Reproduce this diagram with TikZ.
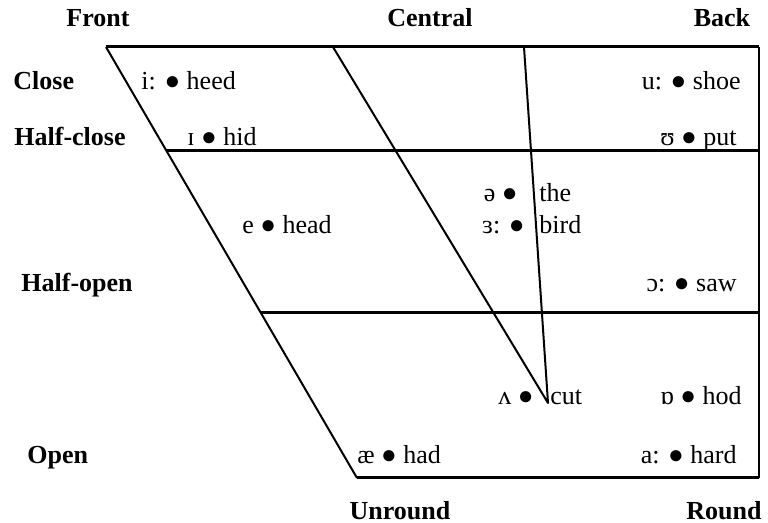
\documentclass[tikz,border=0pt]{standalone}
\usepackage{fontspec}
\setmainfont{Liberation Serif}
\begin{document}
\begin{tikzpicture}[x=0.5pt, y=-0.5pt,
    thickline/.style={line width=1.5pt},
    thinline/.style={line width=1pt, line join=round},
    vowel/.style={inner sep=0pt, font=\fontsize{13}{15}\selectfont},
    heading/.style={inner sep=0pt, font=\fontsize{13}{15}\selectfont\bfseries}]
    \useasboundingbox (0,0) rectangle (768,523);

    % corners of the chart
    \coordinate (topleft) at (106,47);
    \coordinate (topright) at (759,47);
    \coordinate (botleft) at (357,478);
    \coordinate (botright) at (759,478);
    \coordinate (hcleft) at (166,151);
    \coordinate (hcright) at (759,151);
    \coordinate (holeft) at (261,313);
    \coordinate (horight) at (759,313);
    \coordinate (ctop) at (333,47);
    \coordinate (mtop) at (524,47);
    \coordinate (cbot) at (548,403);

    \draw[thickline] (topleft) -- (topright);
    \draw[thickline] (botleft) -- (botright);
    \draw[thickline] (hcleft) -- (hcright);
    \draw[thickline] (holeft) -- (horight);
    \draw[thinline] (topleft) -- (botleft);
    \draw[thinline] (topright) -- (botright);
    \draw[thinline] (ctop) -- (cbot) -- (mtop);

    % column and row headings
    \node[heading, anchor=base] (front) at (98,27) {Front};
    \node[heading, anchor=base] (central) at (430,27) {Central};
    \node[heading, anchor=base] (back) at (722,27) {Back};
    \node[heading, anchor=base west] (close) at (13,90) {Close};
    \node[heading, anchor=base west] (halfclose) at (14,146) {Half-close};
    \node[heading, anchor=base west] (halfopen) at (21,292) {Half-open};
    \node[heading, anchor=base west] (open) at (27,464) {Open};
    \node[heading, anchor=base] (unround) at (400,520) {Unround};
    \node[heading, anchor=base] (round) at (724,520) {Round};

    % vowels
    \node[vowel, anchor=base west] (heed) at (141,90) {i: ● heed};
    \node[vowel, anchor=base west] (hid) at (187,146) {ɪ ● hid};
    \node[vowel, anchor=base east] (shoe) at (741,90) {u: ● shoe};
    \node[vowel, anchor=base east] (put) at (737,146) {ʊ ● put};
    \node[vowel, anchor=base west] (head) at (242,234) {e ● head};
    \node[vowel, anchor=base east] (schwa) at (518,202) {ə ●};
    \node[vowel, anchor=base west] (the) at (539,202) {the};
    \node[vowel, anchor=base east] (nurse) at (525,234) {ɜ: ●};
    \node[vowel, anchor=base west] (bird) at (539,234) {bird};
    \node[vowel, anchor=base east] (saw) at (737,292) {ɔ: ● saw};
    \node[vowel, anchor=base east] (wedge) at (534,405) {ʌ ●};
    \node[vowel, anchor=base west] (cut) at (550,405) {cut};
    \node[vowel, anchor=base east] (hod) at (742,405) {ɒ ● hod};
    \node[vowel, anchor=base west] (had) at (357,464) {æ ● had};
    \node[vowel, anchor=base east] (hard) at (737,464) {a: ● hard};
\end{tikzpicture}
\end{document}
